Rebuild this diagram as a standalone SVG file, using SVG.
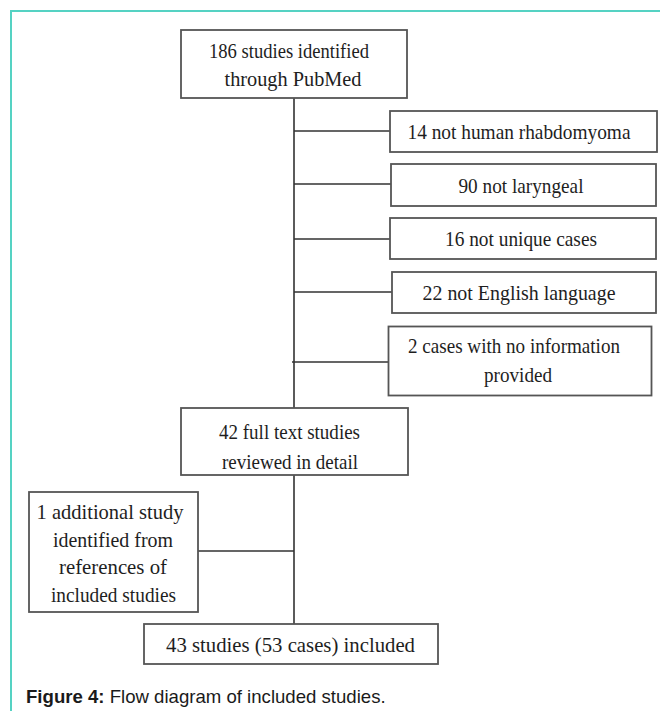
<svg xmlns="http://www.w3.org/2000/svg" width="660" height="711" viewBox="0 0 660 711">
<style>
.box{fill:#fff;stroke:#555;stroke-width:1.8}
.t{font-family:"Liberation Serif","Times New Roman",serif;font-size:22px;fill:#1e1e1e;text-anchor:middle}
.ln{stroke:#333;stroke-width:1.6;fill:none}
.cap{font-family:"Liberation Sans",Arial,sans-serif;font-size:18.6px;fill:#1a1a1a}
</style>
<rect width="660" height="711" fill="#fff"/>
<rect x="11" y="11" width="700" height="760" fill="none" stroke="#55d2c3" stroke-width="2"/>
<g id="connectors">
<path class="ln" d="M294 98V408M294 475V624M294 131H390M294 184H391M294 239H390M294 292H392M292 362H389M198 551H294"/>
</g>
<g id="n-start"><rect class="box" x="181" y="30" width="226" height="68"/>
<text class="t" x="289" y="58" textLength="160" lengthAdjust="spacingAndGlyphs">186 studies identified</text>
<text class="t" x="293" y="86" textLength="137" lengthAdjust="spacingAndGlyphs">through PubMed</text></g>
<g id="n-ex1"><rect class="box" x="390" y="111" width="267" height="41"/>
<text class="t" x="519" y="139" textLength="223" lengthAdjust="spacingAndGlyphs">14 not human rhabdomyoma</text></g>
<g id="n-ex2"><rect class="box" x="391" y="164" width="265" height="42"/>
<text class="t" x="521" y="193" textLength="125" lengthAdjust="spacingAndGlyphs">90 not laryngeal</text></g>
<g id="n-ex3"><rect class="box" x="390" y="218" width="266" height="41"/>
<text class="t" x="521" y="246" textLength="152" lengthAdjust="spacingAndGlyphs">16 not unique cases</text></g>
<g id="n-ex4"><rect class="box" x="392" y="272" width="264" height="41"/>
<text class="t" x="519" y="300" textLength="193" lengthAdjust="spacingAndGlyphs">22 not English language</text></g>
<g id="n-ex5"><rect class="box" x="388.5" y="326.5" width="263" height="69"/>
<text class="t" x="514" y="353" textLength="212" lengthAdjust="spacingAndGlyphs">2 cases with no information</text>
<text class="t" x="518" y="382" textLength="68" lengthAdjust="spacingAndGlyphs">provided</text></g>
<g id="n-full"><rect class="box" x="181" y="408" width="227" height="67"/>
<text class="t" x="289.5" y="439" textLength="141" lengthAdjust="spacingAndGlyphs">42 full text studies</text>
<text class="t" x="290" y="469" textLength="136" lengthAdjust="spacingAndGlyphs">reviewed in detail</text></g>
<g id="n-add"><rect class="box" x="29" y="492" width="169" height="120"/>
<text class="t" x="110" y="519" textLength="147" lengthAdjust="spacingAndGlyphs">1 additional study</text>
<text class="t" x="113" y="547" textLength="120" lengthAdjust="spacingAndGlyphs">identified from</text>
<text class="t" x="113" y="574" textLength="108" lengthAdjust="spacingAndGlyphs">references of</text>
<text class="t" x="113.5" y="602" textLength="125" lengthAdjust="spacingAndGlyphs">included studies</text></g>
<g id="n-final"><rect class="box" x="144" y="624" width="294" height="40"/>
<text class="t" x="290.5" y="652" textLength="249" lengthAdjust="spacingAndGlyphs">43 studies (53 cases) included</text></g>
<text class="cap" x="26" y="703"><tspan font-weight="bold">Figure 4:</tspan> Flow diagram of included studies.</text>
</svg>
